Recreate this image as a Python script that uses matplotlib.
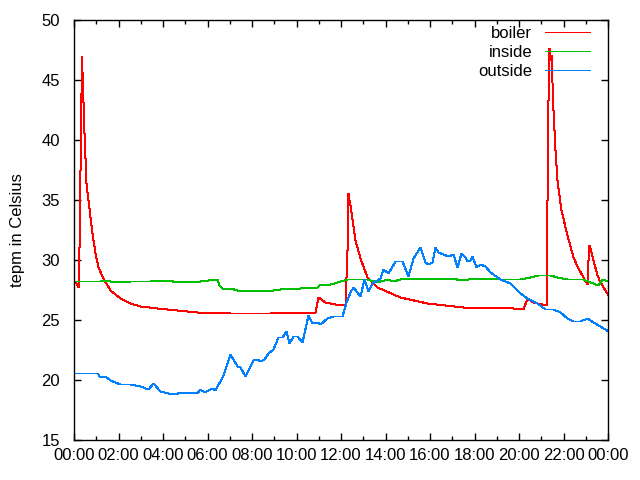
import matplotlib
matplotlib.use("Agg")
import matplotlib.pyplot as plt
from matplotlib.ticker import MultipleLocator, FixedLocator

# time of day in hours, temperature in Celsius
boiler_t = [0.00, 0.09, 0.18, 0.22, 0.27, 0.31, 0.34, 0.36, 0.40, 0.45, 0.54, 0.63,
            0.81, 0.94, 1.08, 1.30, 1.62, 2.07, 2.52, 2.97, 3.73, 4.63, 5.53, 7.01,
            8.81, 10.83, 10.97, 11.28, 11.73, 12.18, 12.27, 12.31, 12.36, 12.40,
            12.63, 12.85, 13.17, 13.62, 14.65, 15.87, 17.48, 19.73, 20.18, 20.36,
            20.63, 21.21, 21.26, 21.30, 21.35, 21.39, 21.44, 21.53, 21.62, 21.71,
            21.89, 22.16, 22.43, 22.65, 22.88, 23.06, 23.10, 23.15, 23.24, 23.33,
            23.51, 23.64, 23.87, 24.00]
boiler_v = [28.2, 28.1, 27.75, 31.1, 37.5, 43.9, 47.0, 45.7, 43.2, 40.6, 36.4, 35.0,
            32.25, 30.6, 29.4, 28.5, 27.5, 26.8, 26.4, 26.2, 26.0, 25.8, 25.7, 25.6,
            25.6, 25.7, 26.9, 26.5, 26.3, 26.25, 30.8, 35.6, 35.0, 34.6,
            31.7, 30.2, 28.6, 27.75, 26.9, 26.4, 26.1, 26.0, 25.9, 26.8,
            26.5, 26.25, 35.0, 43.3, 47.7, 46.7, 47.1, 42.5, 39.2, 36.7,
            34.2, 32.1, 30.25, 29.3, 28.6, 28.0, 30.0, 31.25, 30.7, 30.0,
            28.75, 28.2, 27.5, 27.1]

inside_t = [0.00, 1.17, 1.39, 1.84, 2.52, 3.42, 4.09, 4.76, 5.66, 6.43, 6.52, 6.70,
            7.01, 7.33, 7.69, 8.00, 8.45, 8.94, 9.26, 10.16, 10.92, 11.06, 11.37,
            11.82, 12.27, 13.17, 13.62, 14.07, 14.34, 14.65, 17.03, 17.35, 18.11,
            19.15, 20.04, 20.49, 20.85, 21.39, 21.71, 22.16, 22.88, 23.19, 23.55,
            23.73, 24.00]
inside_v = [28.25, 28.25, 28.33, 28.17, 28.25, 28.25, 28.33, 28.17, 28.25, 28.4, 27.9, 27.6,
            27.67, 27.5, 27.4, 27.5, 27.4, 27.5, 27.6, 27.67, 27.75, 28.0, 27.9,
            28.17, 28.4, 28.4, 28.17, 28.4, 28.25, 28.4, 28.5, 28.33, 28.5,
            28.4, 28.4, 28.6, 28.75, 28.75, 28.6, 28.4, 28.4, 28.17, 27.9,
            28.4, 28.25]

outside_t = [0.00, 0.49, 1.03, 1.17, 1.39, 1.62, 2.07, 2.52, 2.97, 3.33, 3.55, 3.87,
             4.40, 4.90, 5.53, 5.66, 5.84, 6.20, 6.34, 6.70, 7.01, 7.33, 7.46, 7.69,
             8.04, 8.22, 8.36, 8.54, 8.72, 8.94, 9.17, 9.35, 9.53, 9.66, 9.84, 10.02,
             10.25, 10.52, 10.70, 10.92, 11.06, 11.37, 11.64, 12.04, 12.22, 12.40,
             12.54, 12.85, 13.03, 13.21, 13.39, 13.75, 13.89, 14.11, 14.43, 14.74,
             15.01, 15.24, 15.55, 15.78, 15.91, 16.09, 16.22, 16.36, 16.81, 17.03,
             17.21, 17.39, 17.57, 17.66, 17.80, 17.89, 18.07, 18.25, 18.47, 18.70,
             19.15, 19.60, 20.04, 20.36, 20.63, 20.81, 21.17, 21.53, 21.84, 22.16,
             22.43, 22.74, 23.06, 23.33, 23.64, 24.00]
outside_v = [20.58, 20.58, 20.58, 20.25, 20.33, 20.0, 19.67, 19.67, 19.5, 19.25, 19.75, 19.08,
             18.83, 19.0, 18.92, 19.25, 19.0, 19.33, 19.17, 20.42, 22.17, 21.17, 21.08, 20.33,
             21.67, 21.75, 21.58, 21.75, 22.25, 22.58, 23.58, 23.58, 24.08, 23.08, 23.67, 23.67,
             23.17, 25.42, 24.75, 24.83, 24.67, 25.17, 25.33, 25.33, 26.5, 27.33,
             27.75, 27.0, 28.42, 27.42, 28.08, 28.5, 29.25, 28.92, 29.92, 29.92,
             28.67, 30.17, 31.08, 29.83, 29.67, 29.83, 31.08, 30.67, 30.33, 30.5,
             29.42, 30.58, 30.25, 29.92, 30.0, 30.33, 29.42, 29.67, 29.5, 29.0,
             28.42, 28.08, 27.25, 26.83, 26.58, 26.42, 25.92, 25.92, 25.67, 25.17,
             24.92, 24.92, 25.17, 24.83, 24.5, 24.08]

xticks = [0, 2, 4, 6, 8, 10, 12, 14, 16, 18, 20, 22, 24]
xlabels = ["00:00", "02:00", "04:00", "06:00", "08:00", "10:00", "12:00",
           "14:00", "16:00", "18:00", "20:00", "22:00", "00:00"]

plt.rcParams['font.family'] = ['Liberation Sans', 'DejaVu Sans']
plt.rcParams['font.size'] = 12

fig = plt.figure(figsize=(6.4, 4.8), dpi=100)
ax = fig.add_axes([74/640, 40/480, 534/640, 420/480])

# gnuplot-like crisp 1px lines
line_kw = dict(lw=0.72, antialiased=False, snap=True)
ax.plot(boiler_t, boiler_v, color='#ff0000', label='boiler', **line_kw)
ax.plot(inside_t, inside_v, color='#00c000', label='inside', **line_kw)
ax.plot(outside_t, outside_v, color='#0080ff', label='outside', **line_kw)

ax.set_xlim(0, 24)
ax.set_ylim(15, 50)
ax.xaxis.set_major_locator(FixedLocator(xticks))
ax.set_xticklabels(xlabels)
ax.xaxis.set_minor_locator(MultipleLocator(1))
ax.yaxis.set_major_locator(MultipleLocator(5))
ax.tick_params(which='both', direction='in', top=True, right=True, color='black')
ax.tick_params(which='major', length=5, width=1)
ax.tick_params(which='minor', length=3, width=1)
ax.tick_params(axis='x', which='major', pad=6)
ax.tick_params(axis='y', which='major', pad=10)
ax.set_ylabel('tepm in Celsius', labelpad=12)
for s in ax.spines.values():
    s.set_linewidth(1)

ax.legend(loc='upper right', bbox_to_anchor=(590/640, 1 - 26/480),
          bbox_transform=fig.transFigure, frameon=False, markerfirst=False,
          handlelength=2.7, handletextpad=0.78, labelspacing=0.24,
          borderaxespad=0, borderpad=0, fontsize=12)

fig.savefig('out.png', dpi=100)
